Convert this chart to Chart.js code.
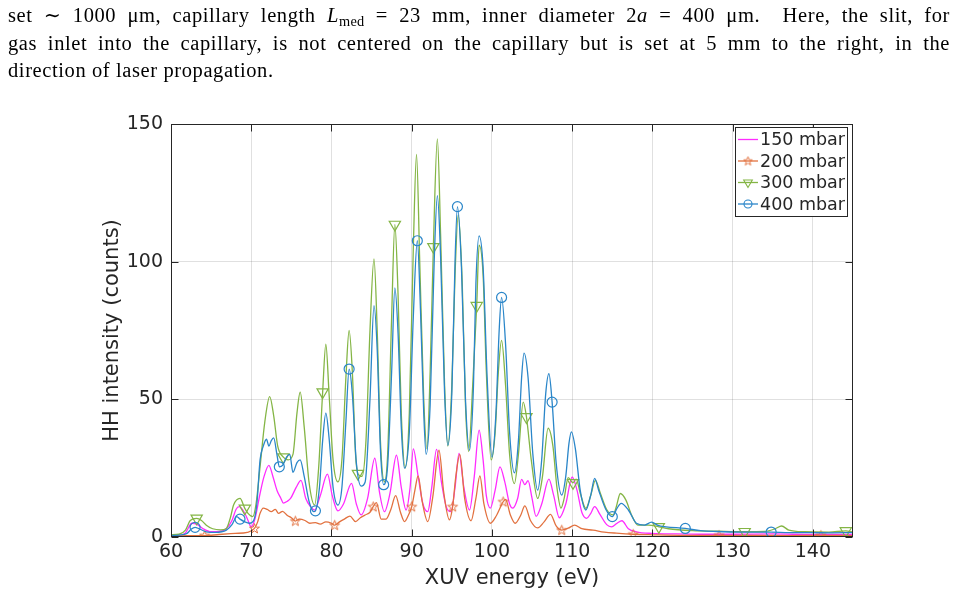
<!DOCTYPE html>
<html>
<head>
<meta charset="utf-8">
<script src="https://cdn.jsdelivr.net/npm/chart.js@4.4.1/dist/chart.umd.min.js"></script>
<style>
  html, body { margin: 0; padding: 0; background: #fff; }
  #wrap { position: relative; width: 958px; height: 599px; overflow: hidden; }
  #chart { position: absolute; left: 0; top: 0; }
  #txt { position: absolute; left: 8px; top: 2px; width: 942px; font-family: "Liberation Serif", "DejaVu Serif", serif; font-size: 20.5px; letter-spacing: 0.6px; line-height: 27.5px; color: #000; }
  #txt div.j { text-align: justify; text-align-last: justify; white-space: nowrap; }
  #txt div.l { text-align: left; }
  #txt sub { font-size: 70%; vertical-align: -0.3em; line-height: 0; letter-spacing: 0.3px; }
</style>
</head>
<body>
<div id="wrap">
  <canvas id="chart" width="958" height="599"></canvas>
  <div id="txt">
    <div class="j">set ∼ 1000 μm, capillary length <i>L</i><sub>med</sub> = 23 mm, inner diameter 2<i>a</i> = 400 μm.&nbsp; Here, the slit, for</div>
    <div class="j">gas inlet into the capillary, is not centered on the capillary but is set at 5 mm to the right, in the</div>
    <div class="l">direction of laser propagation.</div>
  </div>
</div>
<script>
// ---------------- DATA ----------------
const xTickValues = [60, 70, 80, 90, 100, 110, 120, 130, 140];
const yTickValues = [0, 50, 100, 150];
const seriesLabels = ["150 mbar", "200 mbar", "300 mbar", "400 mbar"];

// 150 mbar (energy eV, counts)
const s150 = [
[60,0.3],[61,0.5],[61.8,1.5],[62.6,5],[63.3,4.5],[64.0,3],[65.0,1.9],[66.0,2],[66.9,3],[67.6,6],[68.1,10],[68.5,11],[69.2,8.6],[69.6,6],[70.0,3.7],[70.5,7],[71.1,15.8],[71.6,22],[72.2,26],[72.7,22],[73.2,17],[73.7,14],[74.0,12.3],[74.5,13],[74.9,14],[75.6,18],[76.2,20.6],[76.8,14],[77.4,11],[77.9,9.8],[78.6,15],[79.5,22.8],[80.1,15],[80.8,9.5],[81.5,12],[82.5,19.5],[83.1,12],[83.7,8],[84.5,14],[85.4,28.6],[86.0,16],[86.6,9.2],[87.3,16],[88.1,29.7],[88.7,18],[89.3,9.8],[89.8,18],[90.2,32],[90.8,22],[91.4,12],[92.0,9.2],[92.5,18],[93.1,31.8],[93.7,20],[94.3,11],[94.9,9.2],[95.4,18],[95.9,30.4],[96.5,18],[97.2,9.8],[97.8,22],[98.4,38.8],[98.9,28],[99.3,15],[99.8,10.5],[100.4,17],[101.0,25.5],[101.6,20],[102.2,12],[102.6,10.5],[103.2,14],[103.7,20.9],[104.1,19],[104.5,20.5],[105.0,14],[105.5,7.5],[106.2,12],[107.1,21],[107.7,15],[108.4,7],[109.2,12],[110.0,21.8],[110.6,17],[111.2,9],[111.8,6.8],[112.3,8.5],[112.8,11],[113.5,8],[114.3,4.5],[114.9,3.7],[115.6,5],[116.2,5.9],[117.0,3],[118.0,1.9],[120,1.3],[123,1.1],[126,1],[130,1],[135,1.1],[140,0.9],[145,0.9]
];
// 200 mbar
const s200 = [
[60,0.4],[62,0.5],[64.2,0.5],[66,0.9],[68,1.3],[69.5,1.7],[70.4,3.1],[70.8,5.5],[71.1,8.6],[71.5,10.5],[72.0,10],[72.5,9.2],[73.0,10],[73.4,8.6],[73.9,9.3],[74.5,7.8],[75.0,7],[75.5,5.8],[76.0,6.5],[76.7,6],[77.3,5],[78.0,5.2],[78.6,4.7],[79.3,5.5],[80.0,5],[80.4,4.3],[81.0,5.5],[81.6,6.5],[82.3,7.6],[83.0,5.6],[83.6,7],[84.2,8],[84.8,9],[85.2,11],[85.6,12.5],[86.2,6.5],[86.8,6.5],[87.4,10],[88.0,15],[88.6,9],[89.1,5.6],[89.6,8],[90.0,11],[90.4,17],[90.8,22.2],[91.3,13],[92.0,5.6],[92.6,14],[93.4,31.5],[94.0,16],[94.7,6.2],[95.1,11],[95.5,22],[96.0,30],[96.6,14],[97.4,5.9],[98.0,14],[98.5,22.2],[99.0,12],[99.8,5],[100.6,8],[101.4,12.8],[101.7,13.7],[102.3,8],[102.9,5],[103.6,8],[104.1,11.3],[104.8,6],[105.7,3.3],[106.5,5.5],[107.3,8.2],[108.0,4],[108.7,2.5],[109.5,3.2],[110.3,4.3],[111.2,3],[112.6,2.5],[114,1.8],[115.5,1.4],[117.6,1.0],[120,0.8],[124,0.6],[128.3,0.6],[133,0.6],[137,0.5],[141.0,0.6],[145,0.5]
];
// 300 mbar
const s300 = [
[60,0.8],[61,1],[61.8,2.5],[62.4,6],[63.2,6.8],[63.8,6],[64.4,4.3],[65.2,3],[66.2,2.6],[66.9,3.1],[67.4,7],[67.8,11.6],[68.6,14],[69.2,10.4],[69.6,8.6],[70.2,7.4],[70.6,12],[71.1,25.5],[71.7,42],[72.3,51],[72.8,44],[73.3,33],[74.0,29],[74.6,28],[75.2,30],[75.7,45],[76.1,52.6],[76.6,40],[77.2,20],[77.9,11.6],[78.4,25],[78.9,52.6],[79.3,70],[79.7,52],[80.2,28],[80.8,20],[81.3,28],[81.8,58],[82.2,75],[82.6,60],[83.0,30],[83.3,23],[83.8,22],[84.3,35],[84.8,75],[85.3,101],[85.7,75],[86.1,35],[86.6,20],[87.0,30],[87.5,80],[87.9,113.5],[88.3,88],[88.7,45],[89.2,25],[89.7,45],[90.2,105],[90.6,139],[91.0,100],[91.5,50],[91.9,32],[92.3,60],[92.7,105.4],[93.2,144.6],[93.6,110],[94.1,55],[94.5,33],[95.0,55],[95.4,95],[95.8,117],[96.3,92],[96.7,48],[97.1,31],[97.6,55],[98.1,84],[98.4,106],[98.9,95],[99.3,60],[99.9,28],[100.4,38],[100.8,60],[101.2,71.4],[101.7,55],[102.2,30],[102.8,19.4],[103.3,30],[103.9,49],[104.3,43.6],[104.9,28],[105.7,14],[106.3,22],[107.0,39.5],[107.6,33],[108.1,18],[108.6,10.5],[109.0,14],[109.5,21.6],[110.1,19.7],[110.5,21],[111.0,16],[111.7,10.4],[112.3,15],[112.9,20.6],[113.5,16],[114.3,10],[115.1,8],[115.5,11],[116.0,15.8],[116.7,13.4],[117.4,8],[118.2,4.3],[119.5,4.3],[120.8,3.7],[122,3],[125,2.3],[128,2.1],[131.5,1.9],[134,2],[135.3,3],[136.1,4],[137,2.5],[139,1.9],[142,1.8],[144.1,2.2],[145,1.8]
];
// 400 mbar
const s400 = [
[60,0.5],[61,0.7],[62,1.3],[62.5,2.8],[63.0,3.5],[63.5,3],[64.4,1.9],[65.5,1.7],[66.9,2.5],[67.6,4.5],[68.2,7.4],[68.6,6.5],[69.2,5.5],[69.8,5],[70.3,6],[70.7,12],[71.1,28],[71.5,33],[71.9,35.5],[72.2,33],[72.5,35],[72.8,36],[73.2,30],[73.5,25.5],[73.9,26],[74.4,29],[74.8,30],[75.2,23.5],[75.7,27],[76.1,28],[76.6,22],[77.2,13],[77.8,9.2],[78.0,9.5],[78.5,18],[78.9,35],[79.3,45],[79.7,36],[80.2,18],[80.8,11.6],[81.3,18],[81.8,42],[82.2,61],[82.6,52],[83.1,27],[83.7,18.5],[84.2,20],[84.8,50],[85.3,84],[85.7,68],[86.1,32],[86.5,19],[87.0,26],[87.5,60],[87.9,90.5],[88.3,74],[88.7,40],[89.1,25],[89.7,38],[90.2,80],[90.7,107.6],[91.1,82],[91.5,45],[91.8,30],[92.3,48],[92.8,100],[93.2,124],[93.6,102],[94.1,52],[94.5,33.3],[95.0,52],[95.4,100],[95.7,120],[96.2,98],[96.7,50],[97.2,31.5],[97.7,55],[98.0,92],[98.4,109.4],[98.9,98],[99.4,58],[100.0,29],[100.5,45],[100.9,75],[101.2,87],[101.7,70],[102.2,38],[102.8,23.3],[103.3,35],[103.7,58],[104.0,66.8],[104.5,58],[105.1,30],[105.7,17],[106.2,28],[106.7,52],[107.1,59.3],[107.5,49],[108.0,27],[108.7,15.2],[109.2,22],[109.6,34],[109.9,38.2],[110.4,32],[111.0,17],[111.7,9.8],[112.3,15],[112.8,21.3],[113.3,17],[114.2,10],[115.0,7.4],[115.6,10.5],[116.1,12.2],[117.0,9.8],[118.0,5],[119.0,4.3],[119.9,5.4],[120.7,4.2],[121.7,3.7],[124.1,3.1],[126,2.3],[128,2],[131,1.8],[134.8,1.8],[137,1.6],[140,1.6],[142,1.5],[145,1.6]
];
// energies where the markers sit on each curve
const mark200 = [64.2, 70.4, 75.5, 80.4, 85.2, 90.0, 95.1, 101.4, 108.7, 117.6, 128.3, 141.0];
const mark300 = [63.2, 69.2, 74.0, 78.9, 83.3, 87.9, 92.7, 98.1, 104.3, 110.1, 120.8, 131.5, 144.1];
const mark400 = [63.0, 68.6, 73.5, 78.0, 82.2, 86.5, 90.7, 95.7, 101.2, 107.5, 115.0, 124.1, 134.8];

// ---------------- STYLE ----------------
const COL = { c150: '#ff2cff', c200: '#e2713f', c300: '#84b545', c400: '#2a86c9' };
const axisColor = '#262626';
const gridColor = 'rgba(38,38,38,0.14)';
const FONT = '"DejaVu Sans", Verdana, sans-serif';

function pentagram(color, R, r) {
  const c = document.createElement('canvas');
  c.width = 13; c.height = 13;
  const g = c.getContext('2d');
  g.strokeStyle = color; g.lineWidth = 1;
  g.beginPath();
  const cx = 6.5, cy = 6.8;
  for (let i = 0; i < 10; i++) {
    const rad = (i % 2 === 0) ? R : r;
    const a = -Math.PI / 2 + i * Math.PI / 5;
    const px = cx + rad * Math.cos(a), py = cy + rad * Math.sin(a);
    if (i === 0) g.moveTo(px, py); else g.lineTo(px, py);
  }
  g.closePath(); g.stroke();
  return c;
}
const starImg = pentagram(COL.c200, 5.2, 2.1);
const starImgLegend = pentagram(COL.c200, 4.6, 1.9);

const toXY = arr => arr.map(p => ({ x: p[0], y: p[1] }));
const markRadius = (marks, r) => ctx => (ctx.raw && marks.includes(ctx.raw.x)) ? r : 0;

const common = { borderWidth: 1.3, cubicInterpolationMode: 'monotone', fill: false, pointBackgroundColor: 'rgba(0,0,0,0)', pointBorderWidth: 1.2, pointHoverRadius: 0 };

const datasets = [
  Object.assign({}, common, { label: seriesLabels[0], data: toXY(s150), borderColor: COL.c150, pointRadius: 0, order: 3 }),
  Object.assign({}, common, { label: seriesLabels[1], data: toXY(s200), borderColor: COL.c200, pointBorderColor: COL.c200, pointStyle: starImg, pointRadius: markRadius(mark200, 5), order: 2 }),
  Object.assign({}, common, { label: seriesLabels[2], data: toXY(s300), borderColor: COL.c300, pointBorderColor: COL.c300, pointStyle: 'triangle', pointRotation: 180, pointRadius: markRadius(mark300, 6.5), order: 1 }),
  Object.assign({}, common, { label: seriesLabels[3], data: toXY(s400), borderColor: COL.c400, pointBorderColor: COL.c400, pointStyle: 'circle', pointRadius: markRadius(mark400, 5), order: 0 })
];

// frame with inward ticks (MATLAB box style) and the legend box
const framePlugin = {
  id: 'frame',
  afterDatasetsDraw(chart) {
    const { ctx, chartArea: a, scales: { x, y } } = chart;
    ctx.save();
    ctx.strokeStyle = axisColor; ctx.lineWidth = 1;
    const L = Math.round(a.left) + 0.5, R = Math.round(a.right) - 0.5, T = Math.round(a.top) + 0.5, B = Math.round(a.bottom) - 0.5;
    ctx.strokeRect(L, T, R - L, B - T);
    ctx.beginPath();
    xTickValues.forEach(v => {
      const px = Math.round(x.getPixelForValue(v)) + 0.5;
      ctx.moveTo(px, B); ctx.lineTo(px, B - 7);
      ctx.moveTo(px, T); ctx.lineTo(px, T + 7);
    });
    yTickValues.forEach(v => {
      const py = Math.round(y.getPixelForValue(v)) + 0.5;
      ctx.moveTo(L, py); ctx.lineTo(L + 7, py);
      ctx.moveTo(R, py); ctx.lineTo(R - 7, py);
    });
    ctx.stroke();
    ctx.restore();
  },
  afterDraw(chart) {
    const ctx = chart.ctx;
    const bx = 735.5, by = 127.5, bw = 112, bh = 89;
    ctx.save();
    ctx.fillStyle = '#fff';
    ctx.fillRect(bx, by, bw, bh);
    ctx.strokeStyle = axisColor; ctx.lineWidth = 1;
    ctx.strokeRect(bx, by, bw, bh);
    ctx.font = '17.5px ' + FONT;
    ctx.textBaseline = 'middle'; ctx.textAlign = 'left';
    const rows = [
      { c: COL.c150, m: null },
      { c: COL.c200, m: 'star' },
      { c: COL.c300, m: 'tri' },
      { c: COL.c400, m: 'circ' }
    ];
    rows.forEach((r, i) => {
      const yy = 139.5 + i * 21.5;
      ctx.strokeStyle = r.c; ctx.lineWidth = 1.3;
      ctx.beginPath(); ctx.moveTo(738, yy); ctx.lineTo(758, yy); ctx.stroke();
      ctx.lineWidth = 1.1;
      if (r.m === 'circ') { ctx.beginPath(); ctx.arc(748, yy, 4, 0, Math.PI * 2); ctx.stroke(); }
      if (r.m === 'tri') {
        const rr = 5;
        ctx.beginPath();
        ctx.moveTo(748, yy + rr);
        ctx.lineTo(748 - rr * Math.sin(Math.PI / 3), yy - rr / 2);
        ctx.lineTo(748 + rr * Math.sin(Math.PI / 3), yy - rr / 2);
        ctx.closePath(); ctx.stroke();
      }
      if (r.m === 'star') ctx.drawImage(starImgLegend, 748 - starImgLegend.width / 2, yy - starImgLegend.height / 2);
      ctx.fillStyle = axisColor;
      ctx.fillText(seriesLabels[i], 760, yy + 1);
    });
    ctx.restore();
  }
};

new Chart(document.getElementById('chart'), {
  type: 'line',
  data: { datasets },
  plugins: [framePlugin],
  options: {
    responsive: false,
    animation: false,
    devicePixelRatio: 1,
    events: [],
    layout: { padding: { top: 124, right: 105, bottom: 0, left: 0 } },
    plugins: { legend: { display: false }, tooltip: { enabled: false } },
    scales: {
      x: {
        type: 'linear', min: 60, max: 145,
        afterBuildTicks: s => { s.ticks = xTickValues.map(v => ({ value: v })); },
        afterFit: s => { s.height = 62; },
        ticks: { font: { family: FONT, size: 19 }, color: axisColor, padding: 4, autoSkip: false, maxRotation: 0, includeBounds: false },
        grid: { drawTicks: false, color: c => (c.tick && c.tick.value === 60) ? 'rgba(0,0,0,0)' : gridColor, lineWidth: 1 },
        border: { display: false },
        title: { display: true, text: 'XUV energy (eV)', font: { family: FONT, size: 21 }, color: axisColor, padding: { top: 0, bottom: 8 } }
      },
      y: {
        type: 'linear', min: 0, max: 150,
        afterBuildTicks: s => { s.ticks = yTickValues.map(v => ({ value: v })); },
        afterFit: s => { s.width = 171; },
        ticks: { font: { family: FONT, size: 19 }, color: axisColor, padding: 8, autoSkip: false },
        grid: { drawTicks: false, color: c => (c.tick && (c.tick.value === 0 || c.tick.value === 150)) ? 'rgba(0,0,0,0)' : gridColor, lineWidth: 1 },
        border: { display: false },
        title: { display: true, text: 'HH intensity (counts)', font: { family: FONT, size: 21 }, color: axisColor, padding: { top: 100, bottom: 0 } }
      }
    }
  }
});
</script>
</body>
</html>
